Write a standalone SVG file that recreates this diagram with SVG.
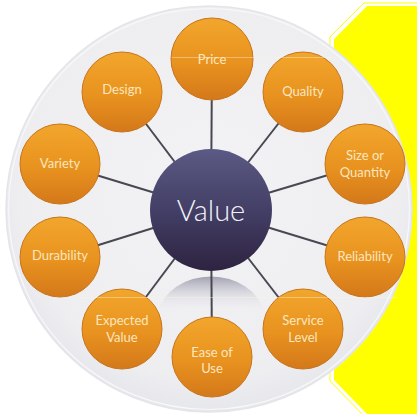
<svg xmlns="http://www.w3.org/2000/svg" width="417" height="414" viewBox="0 0 417 414">
  <defs>
    <linearGradient id="gOrange" x1="0" y1="0" x2="0" y2="1">
      <stop offset="0" stop-color="#f2a62c"/>
      <stop offset="0.55" stop-color="#e8921f"/>
      <stop offset="1" stop-color="#d4781a"/>
    </linearGradient>
    <linearGradient id="gHub" x1="0" y1="0" x2="0" y2="1">
      <stop offset="0" stop-color="#5b5a84"/>
      <stop offset="0.5" stop-color="#433f66"/>
      <stop offset="1" stop-color="#2e2340"/>
    </linearGradient>
    <radialGradient id="gDisc" cx="0.5" cy="0.45" r="0.55">
      <stop offset="0" stop-color="#f3f3f6"/>
      <stop offset="0.85" stop-color="#eeeef1"/>
      <stop offset="1" stop-color="#e6e7eb"/>
    </radialGradient>
    <linearGradient id="gShadow" x1="0" y1="0" x2="0" y2="1">
      <stop offset="0" stop-color="#9d9cac" stop-opacity="0.95"/>
      <stop offset="0.45" stop-color="#c9c9d3" stop-opacity="0.6"/>
      <stop offset="1" stop-color="#eeeef2" stop-opacity="0"/>
    </linearGradient>
  </defs>
  <style>
    .node circle { fill: url(#gOrange); stroke: #c6741c; stroke-width: 1; }
    .node text { font-family: "Lato", "Open Sans", "Liberation Sans", sans-serif; font-size: 13px; fill: #fbe6bf; text-anchor: middle; }
    .links line { stroke: #484852; stroke-width: 2; }
    .hub text { font-family: "Lato", "Open Sans", "Liberation Sans", sans-serif; font-size: 29px; font-weight: 300; fill: #f4f2f8; text-anchor: middle; }
    .scan { stroke: #fff6d8; stroke-width: 1; opacity: 0.4; }
  </style>

  <rect width="417" height="414" fill="#ffffff"/>

  <!-- yellow backing panel with double edge -->
  <polygon points="364,3 419,3 419,416 364,416 330,381 330,37" fill="none" stroke="#ffff00" stroke-width="1"/>
  <polygon points="367,6 417,6 417,414 367,414 334,380 334,39" fill="#ffff00"/>

  <!-- background disc -->
  <circle cx="209" cy="209" r="203" fill="url(#gDisc)" stroke="#e4e5ea" stroke-width="1.5"/>
  <circle cx="209" cy="209" r="200.5" fill="none" stroke="#f8f8fa" stroke-width="1.2"/>

  <!-- soft reflection under the hub -->
  <path d="M158,312 A54,44 0 0 1 264,312 Z" fill="url(#gShadow)"/>

  <g class="links">
    <line x1="211" y1="210" x2="212" y2="59"/>
    <line x1="211" y1="210" x2="303" y2="92"/>
    <line x1="211" y1="210" x2="365" y2="164"/>
    <line x1="211" y1="210" x2="365" y2="257"/>
    <line x1="211" y1="210" x2="303" y2="329"/>
    <line x1="211" y1="210" x2="212" y2="357"/>
    <line x1="211" y1="210" x2="122" y2="329"/>
    <line x1="211" y1="210" x2="60" y2="257"/>
    <line x1="211" y1="210" x2="60" y2="164"/>
    <line x1="211" y1="210" x2="122" y2="92"/>
  </g>

  <g id="hub" class="hub">
    <circle cx="211" cy="210" r="61" fill="url(#gHub)"/>
    <text x="211" y="221">Value</text>
  </g>

  <g id="price" class="node"><circle cx="212" cy="59" r="41"/><text x="212" y="64">Price</text></g>
  <g id="quality" class="node"><circle cx="303" cy="92" r="40"/><text x="303" y="96">Quality</text></g>
  <g id="size" class="node"><circle cx="365" cy="164" r="40"/><text x="365" y="160">Size or</text><text x="365" y="177">Quantity</text></g>
  <g id="reliability" class="node"><circle cx="365" cy="257" r="40"/><text x="365" y="261">Reliability</text></g>
  <g id="service" class="node"><circle cx="303" cy="329" r="40"/><text x="303" y="325">Service</text><text x="303" y="342">Level</text></g>
  <g id="ease" class="node"><circle cx="212" cy="357" r="40"/><text x="212" y="357">Ease of</text><text x="212" y="373">Use</text></g>
  <g id="expected" class="node"><circle cx="122" cy="329" r="40"/><text x="122" y="325">Expected</text><text x="122" y="342">Value</text></g>
  <g id="durability" class="node"><circle cx="60" cy="257" r="40"/><text x="60" y="260">Durability</text></g>
  <g id="variety" class="node"><circle cx="60" cy="164" r="40"/><text x="60" y="168">Variety</text></g>
  <g id="design" class="node"><circle cx="122" cy="92" r="40"/><text x="122" y="94">Design</text></g>

  <!-- faint horizontal scan streaks -->
  <line class="scan" x1="172" y1="57.5" x2="333" y2="57.5"/>
  <line class="scan" x1="80" y1="297.5" x2="397" y2="297.5"/>
</svg>
